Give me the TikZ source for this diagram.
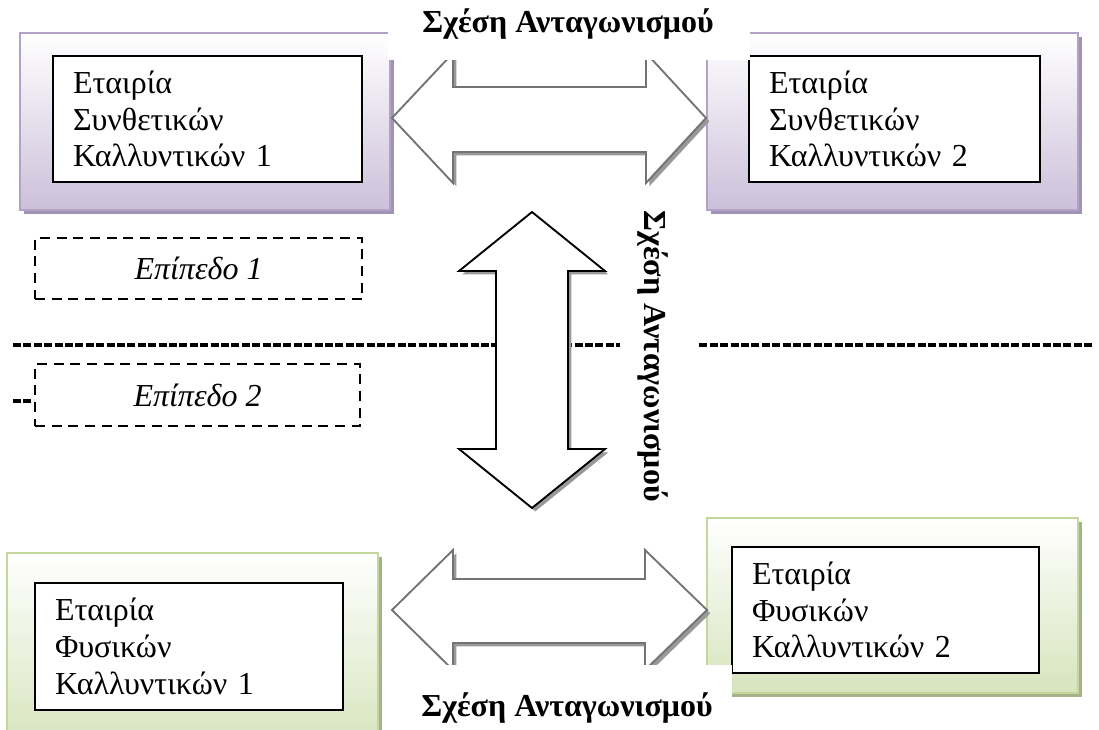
\documentclass[tikz,border=0pt]{standalone}
\usepackage{fontspec}
\setmainfont{Liberation Serif}
\usetikzlibrary{positioning,fit,shadows}

\definecolor{purpleedge}{HTML}{B3A2C7}
\definecolor{purplefill}{HTML}{CCC0DA}
\definecolor{purpleshade}{HTML}{A093B4}
\definecolor{greenedge}{HTML}{C3D69B}
\definecolor{greenfill}{HTML}{D7E4BD}
\definecolor{greenshade}{HTML}{A5B28A}

\tikzset{
  firmbg/.style={inner sep=0pt, line width=1.2pt},
  purplebg/.style={firmbg, draw=purpleedge, top color=white, bottom color=purplefill,
    drop shadow={shadow xshift=3pt, shadow yshift=-3pt, fill=purpleshade, opacity=1}},
  greenbg/.style={firmbg, draw=greenedge, top color=white, bottom color=greenfill,
    drop shadow={shadow xshift=3pt, shadow yshift=-3pt, fill=greenshade, opacity=1}},
  firm/.style={draw, fill=white, line width=1.3pt, align=left, inner xsep=15pt,
    font=\fontsize{24}{27.5}\selectfont},
  levelbox/.style={draw, dashed, dash pattern=on 7.5pt off 5pt, line width=1.8pt,
    font=\fontsize{24}{27.5}\selectfont\itshape},
  separator/.style={line width=2.8pt, dash pattern=on 6pt off 1.8pt},
  blockarrow/.style={fill=white, line width=1.4pt, line join=miter,
    drop shadow={shadow xshift=2.5pt, shadow yshift=-2.5pt, fill=black!40, opacity=1}},
  labelbg/.style={fill=white, inner sep=0pt},
  relation/.style={font=\fontsize{24}{27.5}\selectfont\bfseries, inner sep=0pt}
}

\begin{document}
\begin{tikzpicture}[x=0.75pt, y=-0.75pt]
  \useasboundingbox (0,0) rectangle (1099,729);
  \clip (0,0) rectangle (1099,729);

  % companies
  \node [purplebg, fit={(20,33) (390,210)}] (syn1bg) {};
  \node [purplebg, fit={(707,33) (1078,210)}] (syn2bg) {};
  \node [greenbg, fit={(7,553) (378,745)}] (fys1bg) {};
  \node [greenbg, fit={(707,518) (1078,693)}] (fys2bg) {};
  \node [firm, text width=201.75pt, minimum height=94.5pt] (syn1) at (207.5,119)
    {Εταιρία\\Συνθετικών\\Καλλυντικών 1};
  \node [firm, text width=188.25pt, minimum height=94.5pt] (syn2) at (894.5,119)
    {Εταιρία\\Συνθετικών\\Καλλυντικών 2};
  \node [firm, text width=201pt, minimum height=95.25pt] (fys1) at (189,646.5)
    {Εταιρία\\Φυσικών\\Καλλυντικών 1};
  \node [firm, text width=200.25pt, minimum height=94.5pt] (fys2) at (885.5,610)
    {Εταιρία\\Φυσικών\\Καλλυντικών 2};

  % levels
  \coordinate (sepL) at (13,345);
  \coordinate (sepR) at (1093,345);
  \draw [separator] (sepL) -- (sepR);
  \node [levelbox, minimum width=245.25pt, minimum height=45.75pt] (lvl1) at (198.5,268.5) {Επίπεδο 1};
  \node [levelbox, minimum width=243.75pt, minimum height=46.5pt] (lvl2) at (197.5,395) {Επίπεδο 2};
  \coordinate (stub) at (13,401);
  \draw [separator] (stub) -- (stub -| lvl2.west);

  % competition arrows
  \draw [blockarrow, draw=black!55] (392,118) -- (453,53) -- (453,87) -- (646,87) -- (646,53)
    -- (706,118) -- (646,183) -- (646,152) -- (453,152) -- (453,183) -- cycle;
  \draw [blockarrow, draw=black!55] (392,610) -- (453,550) -- (453,579) -- (645,579) -- (645,550)
    -- (707,610) -- (645,670) -- (645,643) -- (453,643) -- (453,670) -- cycle;
  \draw [blockarrow, draw=black] (532,212) -- (605,271) -- (568,271) -- (568,449) -- (605,449)
    -- (532,508) -- (459,449) -- (496,449) -- (496,271) -- (459,271) -- cycle;

  % relation labels
  \node [labelbg, fit={(388,0) (750,60)}] (topbg) {};
  \node [labelbg, fit={(386,665) (732,745)}] (botbg) {};
  \node [labelbg, fit={(620,200) (697,530)}] (sidebg) {};
  \node [relation] (toprel) at (568,24) {Σχέση Ανταγωνισμού};
  \node [relation] (botrel) at (567,708) {Σχέση Ανταγωνισμού};
  \node [relation, rotate=-90] (siderel) at (653,356) {Σχέση Ανταγωνισμού};
\end{tikzpicture}
\end{document}
